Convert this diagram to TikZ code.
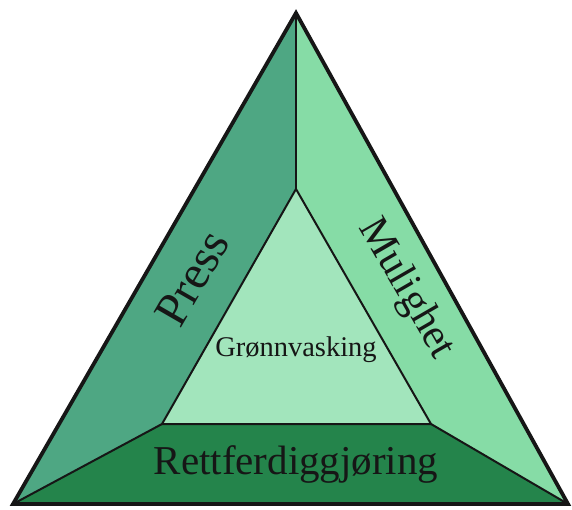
\documentclass[tikz,border=0pt]{standalone}
\usepackage{fontspec}
\setmainfont{Liberation Serif}
\definecolor{leftface}{HTML}{4EA783}
\definecolor{rightface}{HTML}{86DCA6}
\definecolor{bottomface}{HTML}{24844B}
\definecolor{innerface}{HTML}{A2E5BC}
\definecolor{ink}{HTML}{161616}
\tikzset{
  edge/.style={draw=ink, line width=2pt, line join=miter},
  outeredge/.style={draw=ink, line width=3.8pt, line join=miter},
  lbl/.style={text=ink, inner sep=0pt}
}
\begin{document}
\begin{tikzpicture}[x=1pt,y=1pt]
\useasboundingbox (0,0) rectangle (572,509);
\coordinate (A) at (296,496);
\coordinate (B) at (13,5);
\coordinate (C) at (568,5);
\coordinate (a) at (296,320);
\coordinate (b) at (162,85);
\coordinate (c) at (431,85);
\fill[leftface] (A) -- (a) -- (b) -- (B) -- cycle;
\fill[rightface] (A) -- (C) -- (c) -- (a) -- cycle;
\fill[bottomface] (B) -- (b) -- (c) -- (C) -- cycle;
\fill[innerface] (a) -- (b) -- (c) -- cycle;
\draw[edge] (A) -- (a);
\draw[edge] (B) -- (b);
\draw[edge] (C) -- (c);
\draw[edge] (a) -- (b) -- (c) -- cycle;
\draw[outeredge] (A) -- (B) -- (C) -- cycle;
\node[lbl, rotate=60, font=\fontsize{48}{48}\selectfont] (press) at (192,231) {Press};
\node[lbl, rotate=-60, font=\fontsize{42}{42}\selectfont] (mulighet) at (406,220) {Mulighet};
\node[lbl, font=\fontsize{28.5}{28.5}\selectfont] (gronn) at (296,159) {Grønnvasking};
\node[lbl, font=\fontsize{41}{41}\selectfont] (rett) at (296,45) {Rettferdiggjøring};
\end{tikzpicture}
\end{document}
